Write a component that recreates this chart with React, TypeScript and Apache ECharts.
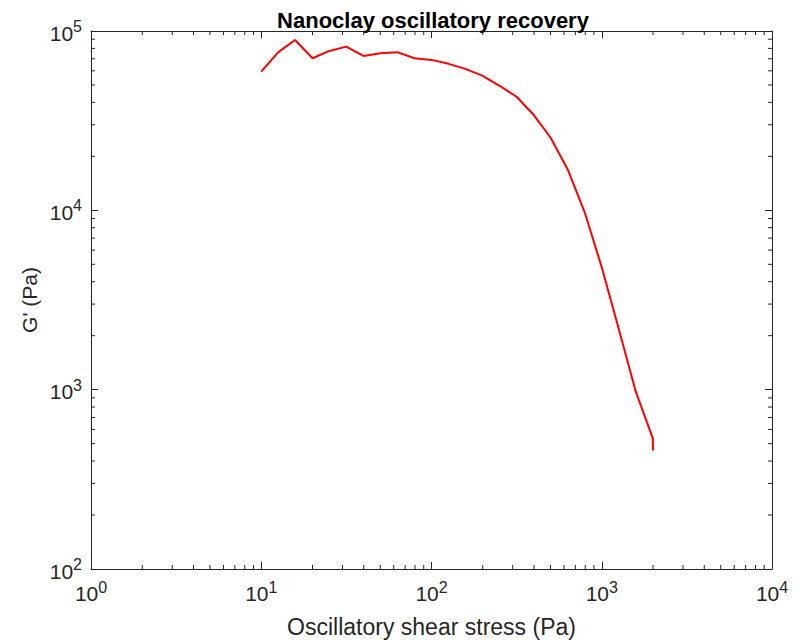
import React, { useEffect, useRef } from "react";
import * as echarts from "echarts";

const stress = [10, 12.6, 15.8, 20, 25.1, 31.6, 39.8, 50.1, 63.1, 79.4, 100, 126, 158, 200, 251, 316, 398, 501, 631, 794, 1000, 1259, 1585, 1995, 2000];
const storageModulus = [59400, 76200, 89100, 70500, 77400, 81800, 72600, 75200, 76200, 70500, 69000, 65600, 61500, 56200, 49500, 43000, 34100, 25400, 16900, 9750, 4820, 2180, 975, 535, 458];
const xMinorTicks = [2, 3, 4, 5, 6, 7, 8, 9, 20, 30, 40, 50, 60, 70, 80, 90, 200, 300, 400, 500, 600, 700, 800, 900, 2000, 3000, 4000, 5000, 6000, 7000, 8000, 9000];
const yMinorTicks = [200, 300, 400, 500, 600, 700, 800, 900, 2000, 3000, 4000, 5000, 6000, 7000, 8000, 9000, 20000, 30000, 40000, 50000, 60000, 70000, 80000, 90000];

const FONT = "Liberation Sans, Arial, sans-serif";
const AX = "#262626";

const supFormatter = (v: number) => {
  const e = Math.round(Math.log10(v));
  return "{b|10}{s|" + e + "}";
};

const rich = {
  b: { fontSize: 21, lineHeight: 21, verticalAlign: "bottom", fontFamily: FONT, color: AX },
  s: { fontSize: 16, lineHeight: 25, verticalAlign: "top", fontFamily: FONT, color: AX },
};

export default function App() {
  const ref = useRef<HTMLDivElement>(null);
  useEffect(() => {
    if (!ref.current) return;
    const chart = echarts.init(ref.current, undefined, { renderer: "svg" });
    const axisCommon = {
      type: "log",
      logBase: 10,
      axisLine: { show: true, lineStyle: { color: AX, width: 1 } },
      axisTick: { show: true, inside: true, length: 7, lineStyle: { color: AX, width: 1 } },
      splitLine: { show: false },
    };
    const tickLine = (x1: number, y1: number, x2: number, y2: number) => ({
      type: "line",
      shape: { x1, y1, x2, y2 },
      style: { stroke: AX, lineWidth: 1 },
    });
    chart.setOption({
      animation: false,
      backgroundColor: "#ffffff",
      title: {
        text: "Nanoclay oscillatory recovery",
        left: 428,
        textAlign: "center",
        top: 4,
        textStyle: { fontFamily: FONT, fontSize: 22, fontWeight: "bold", color: "#000" },
      },
      grid: { left: 91, right: 28, top: 31, bottom: 72 },
      xAxis: [
        {
          ...axisCommon,
          position: "bottom",
          min: 1,
          max: 10000,
          name: "Oscillatory shear stress (Pa)",
          nameLocation: "middle",
          nameGap: 46,
          nameMoveOverlap: false,
          nameTextStyle: { fontFamily: FONT, fontSize: 23, color: AX },
          axisLabel: { show: true, margin: 10, formatter: supFormatter, rich },
        },
        {
          ...axisCommon,
          position: "top",
          min: 1,
          max: 10000,
          axisLabel: { show: false },
        },
      ],
      yAxis: [
        {
          ...axisCommon,
          position: "left",
          min: 100,
          max: 100000,
          name: "G' (Pa)",
          nameLocation: "middle",
          nameGap: 51,
          nameMoveOverlap: false,
          nameTextStyle: { fontFamily: FONT, fontSize: 21, color: AX },
          axisLabel: { show: true, margin: 9, formatter: supFormatter, rich },
        },
        {
          ...axisCommon,
          position: "right",
          min: 100,
          max: 100000,
          axisLabel: { show: false },
        },
      ],
      series: [
        {
          type: "line",
          xAxisIndex: 0,
          yAxisIndex: 0,
          data: stress.map((x, i) => [x, storageModulus[i]]),
          showSymbol: false,
          symbol: "none",
          lineStyle: { color: "#ff0000", width: 2 },
          z: 5,
        },
        {
          type: "custom",
          xAxisIndex: 0,
          yAxisIndex: 0,
          clip: false,
          data: xMinorTicks.map((v) => [v, 1000]),
          renderItem: (params: any, api: any) => {
            const p = api.coord([api.value(0), api.value(1)]);
            const cs = params.coordSys;
            const b = cs.y + cs.height;
            return {
              type: "group",
              children: [tickLine(p[0], b, p[0], b - 4), tickLine(p[0], cs.y, p[0], cs.y + 4)],
            };
          },
        },
        {
          type: "custom",
          xAxisIndex: 0,
          yAxisIndex: 0,
          clip: false,
          data: yMinorTicks.map((v) => [10, v]),
          renderItem: (params: any, api: any) => {
            const p = api.coord([api.value(0), api.value(1)]);
            const cs = params.coordSys;
            const r = cs.x + cs.width;
            return {
              type: "group",
              children: [tickLine(cs.x, p[1], cs.x + 4, p[1]), tickLine(r, p[1], r - 4, p[1])],
            };
          },
        },
      ],
    });
    return () => chart.dispose();
  }, []);
  return (
    <div
      ref={ref}
      style={{ position: "fixed", left: 0, top: 0, width: 800, height: 643, background: "#fff" }}
    />
  );
}
